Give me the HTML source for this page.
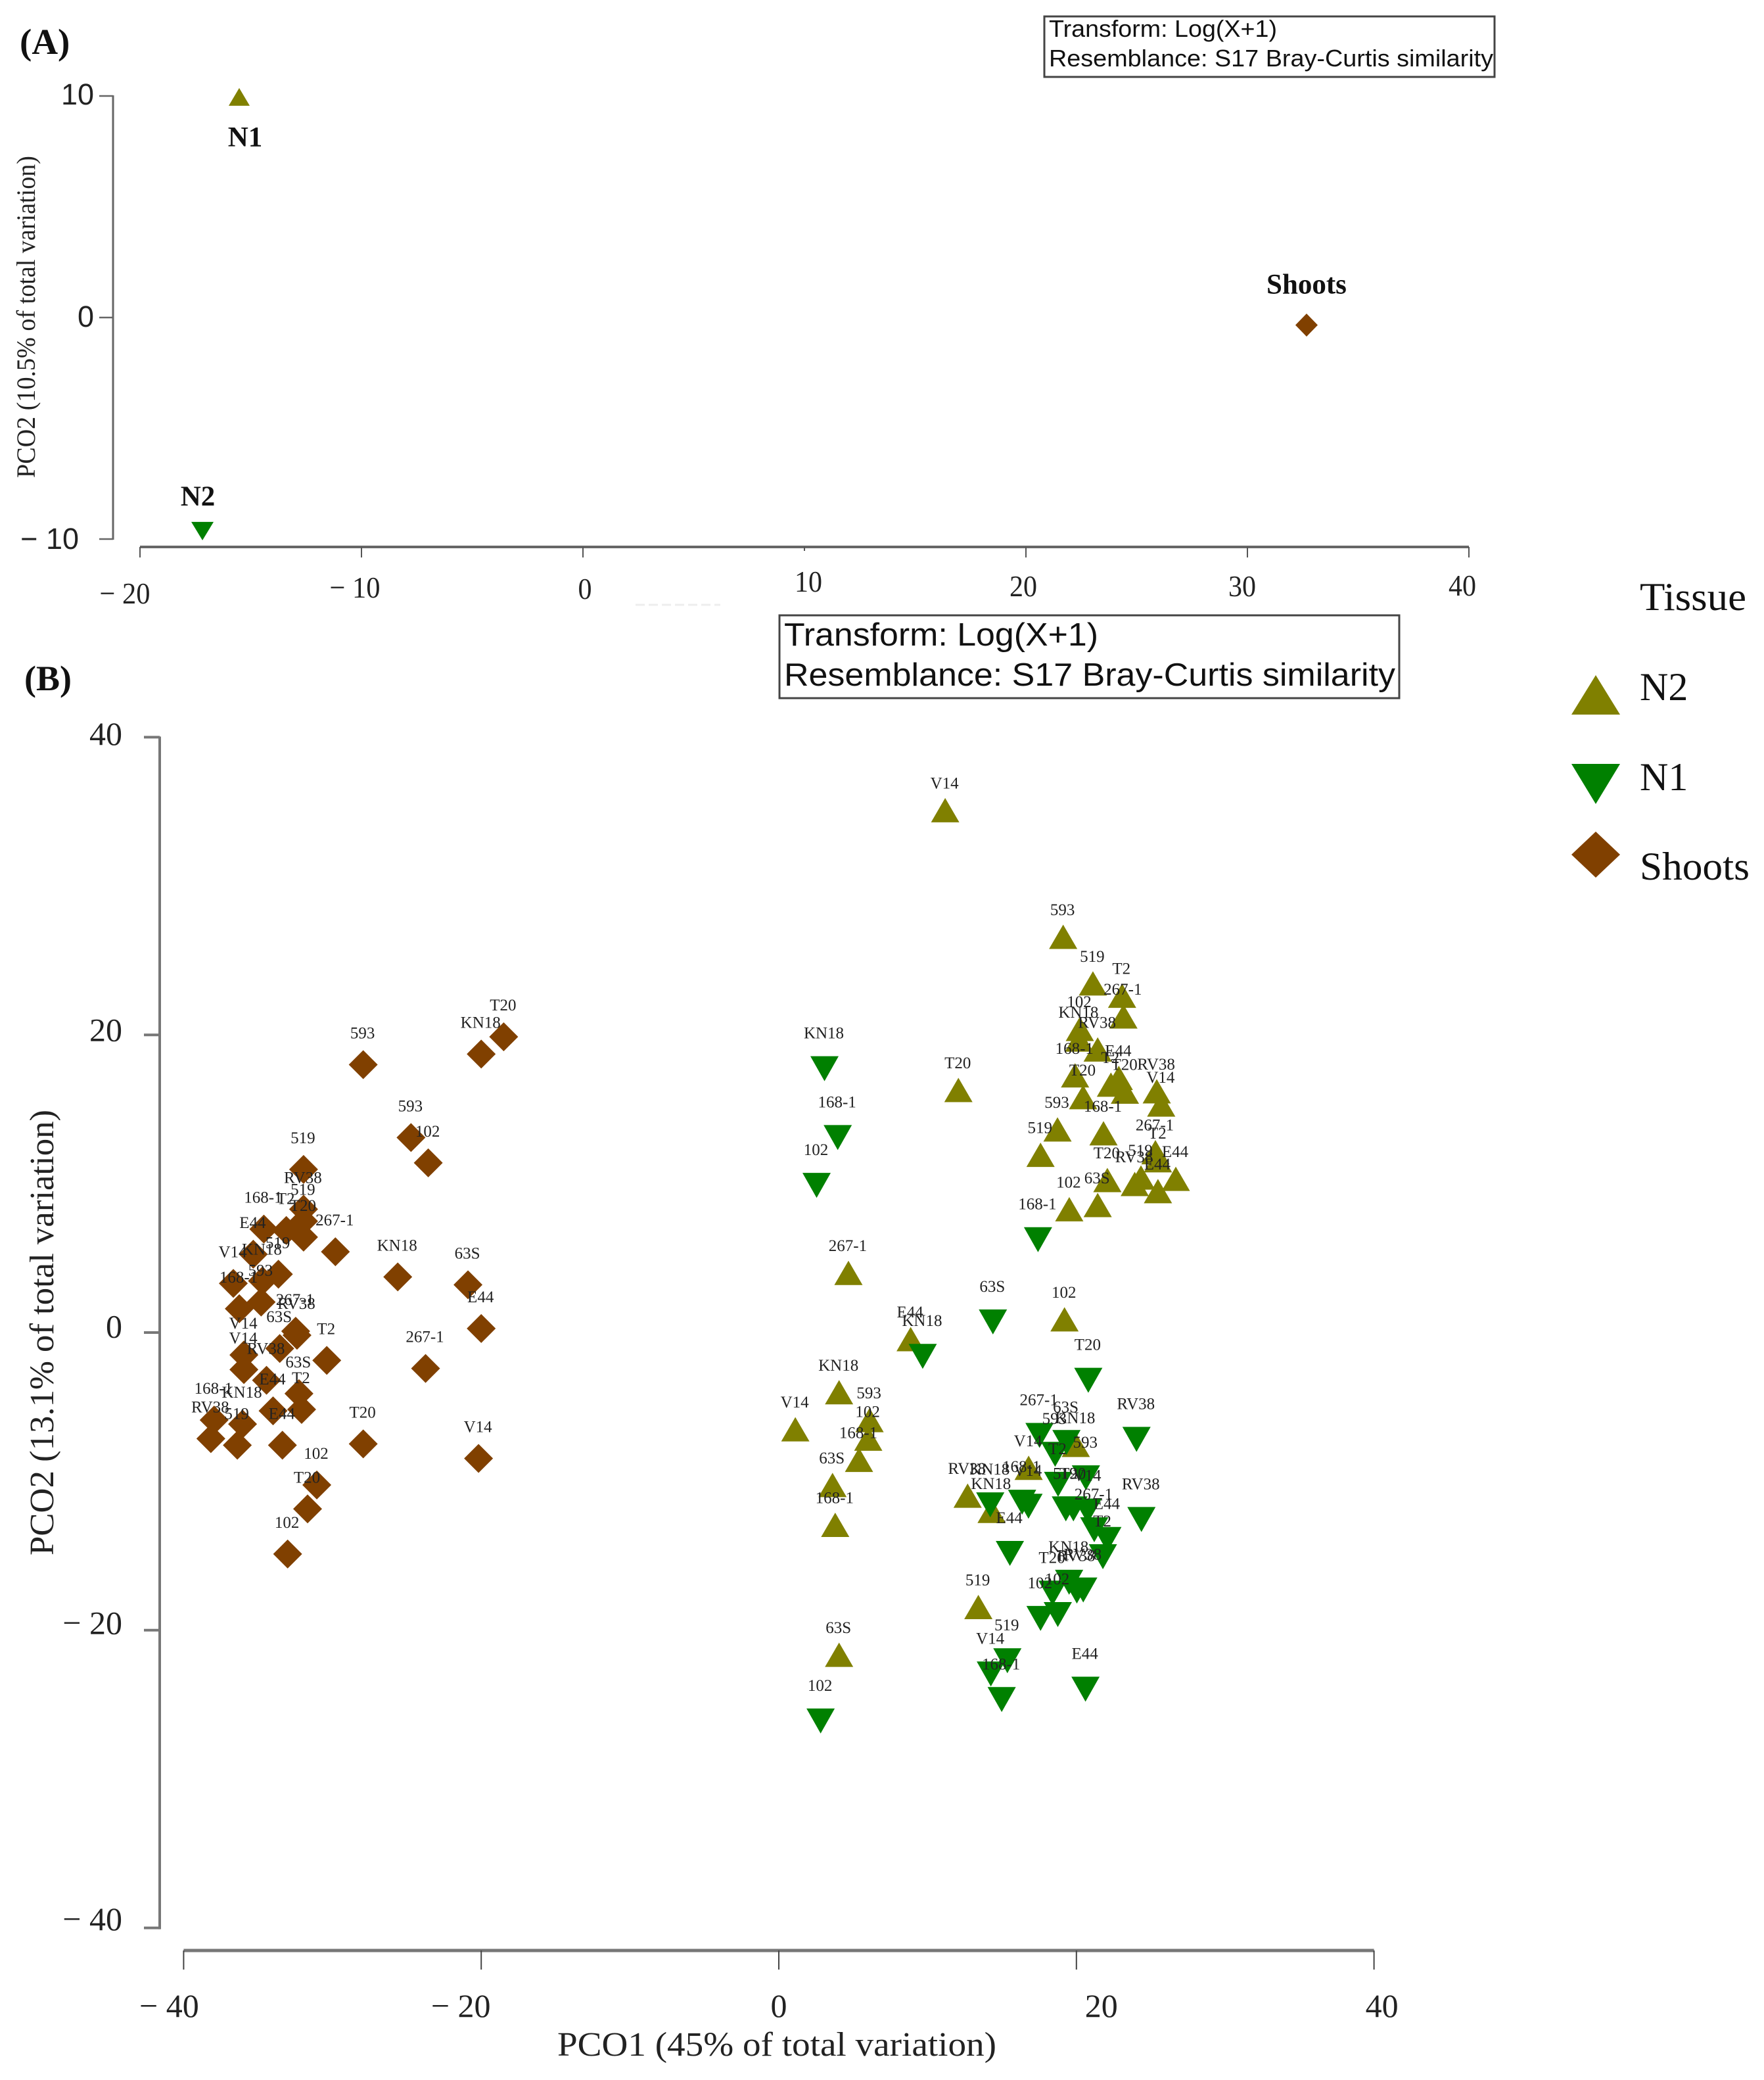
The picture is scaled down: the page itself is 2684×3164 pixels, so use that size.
<!DOCTYPE html>
<html lang="en">
<head>
<meta charset="utf-8">
<title>PCO ordination of tissue samples</title>
<style>
html,body{margin:0;padding:0;background:#fff;overflow:hidden;width:2684px;height:3164px}
svg{display:block}
.serif{font-family:"Liberation Serif",serif}
.sans{font-family:"Liberation Sans",sans-serif}
</style>
</head>
<body>
<svg id="figure" xmlns="http://www.w3.org/2000/svg" width="2684" height="3164" viewBox="0 0 2684 3164">
  <rect width="2684" height="3164" fill="#ffffff"/>

  <text class="serif" x="30" y="82" font-size="55" font-weight="bold" fill="#111">(A)</text>
  <text class="serif" x="37" y="1050" font-size="54" font-weight="bold" fill="#111">(B)</text>

  <g>
    <rect x="1589" y="25" width="685" height="92" fill="#fff" stroke="#444" stroke-width="3"/>
    <text class="sans" x="1596" y="56" font-size="36" fill="#111" textLength="347" lengthAdjust="spacingAndGlyphs">Transform: Log(X+1)</text>
    <text class="sans" x="1596" y="101" font-size="36" fill="#111" textLength="676" lengthAdjust="spacingAndGlyphs">Resemblance: S17 Bray-Curtis similarity</text>
  </g>

  <g>
    <rect x="1186" y="936" width="943" height="126" fill="#fff" stroke="#444" stroke-width="3"/>
    <text class="sans" x="1193" y="982" font-size="49" fill="#111" textLength="478" lengthAdjust="spacingAndGlyphs">Transform: Log(X+1)</text>
    <text class="sans" x="1193" y="1043" font-size="49" fill="#111" textLength="930" lengthAdjust="spacingAndGlyphs">Resemblance: S17 Bray-Curtis similarity</text>
  </g>

  <text class="serif" transform="translate(53,482) rotate(-90)" text-anchor="middle" font-size="40" fill="#222" textLength="490" lengthAdjust="spacingAndGlyphs">PCO2 (10.5% of total variation)</text>
  <text class="serif" transform="translate(81,2027) rotate(-90)" text-anchor="middle" font-size="52" fill="#222" textLength="678" lengthAdjust="spacingAndGlyphs">PCO2 (13.1% of total variation)</text>
  <text class="serif" x="1182" y="3127" text-anchor="middle" font-size="52" fill="#222" textLength="668" lengthAdjust="spacingAndGlyphs">PCO1 (45% of total variation)</text>

  <line x1="967" y1="920" x2="1096" y2="920" stroke="#eeeeee" stroke-width="3" stroke-dasharray="14 6"/>

  <g id="axes"></g>
  <g id="panel-a-marks"></g>
  <g id="panel-b-marks"></g>
  <g id="panel-b-labels"></g>

  <g>
    <text class="serif" x="2495" y="928" font-size="60" fill="#111" textLength="162" lengthAdjust="spacingAndGlyphs">Tissue</text>
    <polygon points="2428,1027 2465,1087 2391,1087" fill="#808000"/>
    <text class="serif" x="2495" y="1065" font-size="60" fill="#111">N2</text>
    <polygon points="2391,1162 2465,1162 2428,1223" fill="#008000"/>
    <text class="serif" x="2495" y="1202" font-size="60" fill="#111">N1</text>
    <polygon points="2428,1265 2465,1300 2428,1335 2391,1300" fill="#804000"/>
    <text class="serif" x="2495" y="1338" font-size="60" fill="#111" textLength="167" lengthAdjust="spacingAndGlyphs">Shoots</text>
  </g>
</svg>

<script>
// ---- Panel A data ----
const aTissues = ["N1", "N2", "Shoots"];
const aPco1 = [-15.52, -17.18, 32.67];
const aPco2 = [9.96, -9.64, -0.34];
const aXTicks = [-20, -10, 0, 10, 20, 30, 40];
const aYTicks = [10, 0, -10];

// ---- Panel B data ----
const bXTicks = [-40, -20, 0, 20, 40];
const bYTicks = [40, 20, 0, -20, -40];

const n2Labels = ["593","519","T2","267-1","102","KN18","RV38","168-1","E44","T2","T20","RV38","V14","T20","593","168-1","519","267-1","T2","T20","519","RV38","E44","E44","63S","102","V14","T20","267-1","102","E44","KN18","V14","593","102","168-1","63S","168-1","63S","519","KN18","V14","RV38","KN18"];
const n2Pco1 = [19.11,21.11,23.07,23.16,20.23,20.18,21.43,19.91,22.85,22.32,23.26,25.40,25.70,20.45,18.73,21.82,17.59,25.31,25.48,22.08,24.34,23.92,26.68,25.48,21.43,19.52,11.18,12.07,4.68,19.20,8.86,4.05,1.11,6.10,6.01,5.39,3.61,3.79,4.05,13.41,19.96,16.79,12.69,14.30];
const n2Pco2 = [26.59,23.46,22.63,21.24,20.40,19.69,19.02,17.28,17.11,16.66,16.19,16.21,15.32,15.82,13.65,13.39,11.94,12.12,11.58,10.25,10.42,9.98,10.33,9.50,8.57,8.29,35.10,16.30,4.01,0.89,-0.44,-4.01,-6.50,-5.88,-7.13,-8.55,-10.24,-12.92,-21.65,-18.44,-7.55,-9.09,-10.96,-11.98];

const n1Labels = ["KN18","168-1","102","168-1","63S","KN18","102","T20","RV38","267-1","63S","593","T2","593","168-1","KN18","V14","E44","519","T20","V14","RV38","267-1","E44","T2","KN18","T20","RV38","RV38","102","102","519","V14","168-1","E44"];
const n1Pco1 = [3.07,3.96,2.54,17.42,14.39,9.67,2.81,20.80,24.04,17.52,19.33,18.57,18.77,20.64,16.35,14.21,16.78,15.53,19.29,19.80,20.76,24.37,21.20,22.08,21.78,19.51,18.40,20.03,20.46,17.59,18.75,15.36,14.25,14.98,20.61];
const n1Pco2 = [17.73,13.10,9.89,6.24,0.71,-1.60,-26.10,-3.21,-7.18,-6.91,-7.39,-8.18,-10.20,-9.76,-11.40,-11.58,-11.67,-14.84,-11.85,-11.85,-11.99,-12.56,-13.25,-13.90,-15.06,-16.78,-17.51,-17.37,-17.30,-19.21,-18.95,-22.05,-22.94,-24.66,-23.96];

const shootsLabels = ["T20","KN18","593","593","102","519","RV38","519","168-1","T2","T20","E44","519","V14","KN18","267-1","KN18","63S","593","168-1","E44","267-1","RV38","63S","V14","V14","T2","267-1","RV38","63S","T2","E44","168-1","KN18","RV38","519","E44","T20","V14","102","T20","102"];
const shootsPco1 = [-18.49,-20.00,-27.93,-24.72,-23.56,-31.94,-31.94,-31.94,-34.61,-33.10,-31.94,-35.32,-33.63,-36.66,-34.70,-29.80,-25.61,-20.89,-34.79,-36.26,-20.00,-32.47,-32.38,-33.54,-35.95,-35.95,-30.38,-23.74,-34.43,-32.25,-32.07,-33.99,-37.95,-36.04,-38.17,-36.39,-33.36,-27.93,-20.18,-31.05,-31.67,-33.01];
const shootsPco2 = [19.87,18.71,18.00,13.10,11.40,10.96,8.29,7.48,6.95,6.86,6.41,5.26,3.92,3.30,3.47,5.43,3.74,3.21,2.05,1.60,0.27,0.09,-0.18,-1.07,-1.51,-2.49,-1.87,-2.41,-3.21,-4.10,-5.17,-5.26,-5.88,-6.15,-7.13,-7.57,-7.57,-7.48,-8.46,-10.24,-11.85,-14.88];

// ---- Axis functions ----
function axX(v){ return 887 + 33.7 * v; }
function axY(v){ return 483 - 33.7 * v; }
function bxX(v){ return 1185 + 22.64 * v; }
function bxY(v){ return 2027 - 22.64 * v; }

const NS = "http://www.w3.org/2000/svg";
function make(tag, parent){
  const el = document.createElementNS(NS, tag);
  parent.appendChild(el);
  return el;
}
function fmtTick(v){ return v < 0 ? "\u2212 " + Math.abs(v) : String(v); }

const axes = document.getElementById("axes");
const aMarks = document.getElementById("panel-a-marks");
const bMarks = document.getElementById("panel-b-marks");
const bLabels = document.getElementById("panel-b-labels");

function rule(parent, x1, y1, x2, y2, stroke, width, name){
  const l = make("line", parent);
  
  
  l.setAttribute("x1", x1);
  l.setAttribute("y1", y1);
  l.setAttribute("x2", x2);
  l.setAttribute("y2", y2);
  l.setAttribute("stroke", stroke);
  l.setAttribute("stroke-width", width);
  return l;
}

// Panel A axes
rule(axes, 172, axY(10) - 1, 172, axY(-10) + 1, "#666", 3, "panel-a-y-axis-line");
rule(axes, axX(-20), 832, axX(40), 832, "#666", 4, "panel-a-x-axis-line");
const aXNudge = {"-20":-23,"-10":-10,"0":3,"10":6,"20":-4,"30":-8,"40":-10};
const aXBase = {"-20":918,"-10":909,"0":911,"10":900,"20":907,"30":907,"40":906};
aXTicks.forEach(function(v){
  rule(axes, axX(v), 832, axX(v), v === 10 ? 838 : 848, "#555", 2, "panel-a-x-tick");
  const t = make("text", axes);
  
  
  t.setAttribute("class", "serif");
  t.setAttribute("x", axX(v) + aXNudge[v]);
  t.setAttribute("y", aXBase[v]);
  t.setAttribute("text-anchor", "middle");
  t.setAttribute("font-size", "46");
  t.setAttribute("fill", "#222");
  const digits = String(Math.abs(v)).length;
  t.setAttribute("textLength", 21 * digits + (v < 0 ? 35 : 0));
  t.setAttribute("lengthAdjust", "spacingAndGlyphs");
  t.textContent = fmtTick(v);
});
aYTicks.forEach(function(v){
  rule(axes, 151, axY(v), 172, axY(v), "#666", 2.5, "panel-a-y-tick");
  const t = make("text", axes);
  
  
  t.setAttribute("class", "sans");
  t.setAttribute("x", v < 0 ? 120 : 143);
  t.setAttribute("y", axY(v) + (v < 0 ? 15 : (v > 0 ? 13 : 14)));
  t.setAttribute("text-anchor", "end");
  t.setAttribute("font-size", "45");
  t.setAttribute("fill", "#222");
  t.textContent = fmtTick(v);
});

// Panel B axes
rule(axes, 243, bxY(40) - 1, 243, bxY(-40) + 2, "#777", 4, "panel-b-y-axis-line");
rule(axes, bxX(-40), 2967, bxX(40), 2967, "#777", 5, "panel-b-x-axis-line");
const bXNudge = {"-40":-22,"-20":-31,"0":0,"20":38,"40":12};
bXTicks.forEach(function(v){
  rule(axes, bxX(v), 2967, bxX(v), 2996, "#444", 2, "panel-b-x-tick");
  const t = make("text", axes);
  
  
  t.setAttribute("class", "serif");
  t.setAttribute("x", bxX(v) + bXNudge[v]);
  t.setAttribute("y", 3068);
  t.setAttribute("text-anchor", "middle");
  t.setAttribute("font-size", "50");
  t.setAttribute("fill", "#222");
  t.textContent = fmtTick(v);
});
bYTicks.forEach(function(v){
  rule(axes, 219, bxY(v), 243, bxY(v), "#777", 4, "panel-b-y-tick");
  const t = make("text", axes);
  
  
  t.setAttribute("class", "serif");
  t.setAttribute("x", 186);
  t.setAttribute("y", 2017.5 - 22.54 * v + 17);
  t.setAttribute("text-anchor", "end");
  t.setAttribute("font-size", "50");
  t.setAttribute("fill", "#222");
  t.textContent = fmtTick(v);
});

// Marker shapes
function upTriangle(cx, cy, w, h){
  return cx + "," + (cy - h / 2) + " " + (cx + w / 2) + "," + (cy + h / 2) + " " + (cx - w / 2) + "," + (cy + h / 2);
}
function downTriangle(cx, cy, w, h){
  return (cx - w / 2) + "," + (cy - h / 2) + " " + (cx + w / 2) + "," + (cy - h / 2) + " " + cx + "," + (cy + h / 2);
}
function diamond(cx, cy, w, h){
  return cx + "," + (cy - h / 2) + " " + (cx + w / 2) + "," + cy + " " + cx + "," + (cy + h / 2) + " " + (cx - w / 2) + "," + cy;
}

// Panel A points and labels
const aColors = ["#808000", "#008000", "#804000"];
const aShapes = [upTriangle, downTriangle, diamond];
const aSizes = [[32, 27], [34, 28], [34, 35]];
const aLabelDx = [9, -7, 0];
const aLabelDy = [75, -39, -48];
aTissues.forEach(function(name, i){
  const cx = axX(aPco1[i]);
  const cy = axY(aPco2[i]);
  const p = make("polygon", aMarks);
  
  
  p.setAttribute("points", aShapes[i](cx, cy, aSizes[i][0], aSizes[i][1]));
  p.setAttribute("fill", aColors[i]);
  const t = make("text", aMarks);
  
  
  t.setAttribute("class", "serif");
  t.setAttribute("x", cx + aLabelDx[i]);
  t.setAttribute("y", cy + aLabelDy[i]);
  t.setAttribute("text-anchor", "middle");
  t.setAttribute("font-size", "43");
  t.setAttribute("font-weight", "bold");
  t.setAttribute("fill", "#111");
  t.textContent = name;
});

// Panel B series
function drawSeries(labels, xs, ys, shape, w, h, color, labelDy){
  xs.forEach(function(x, i){
    const cx = bxX(x);
    const cy = bxY(ys[i]);
    const p = make("polygon", bMarks);
    
    
    p.setAttribute("points", shape(cx, cy, w, h));
    p.setAttribute("fill", color);
    const t = make("text", bLabels);
    
    
    t.setAttribute("class", "serif");
    t.setAttribute("x", cx - 1);
    t.setAttribute("y", cy + labelDy);
    t.setAttribute("text-anchor", "middle");
    t.setAttribute("font-size", "25");
    t.setAttribute("fill", "#222");
    t.textContent = labels[i];
  });
}
drawSeries(n2Labels, n2Pco1, n2Pco2, upTriangle, 43, 37, "#808000", -33);
drawSeries(n1Labels, n1Pco1, n1Pco2, downTriangle, 43, 38, "#008000", -46);
drawSeries(shootsLabels, shootsPco1, shootsPco2, diamond, 44, 44, "#804000", -40);
</script>
</body>
</html>
